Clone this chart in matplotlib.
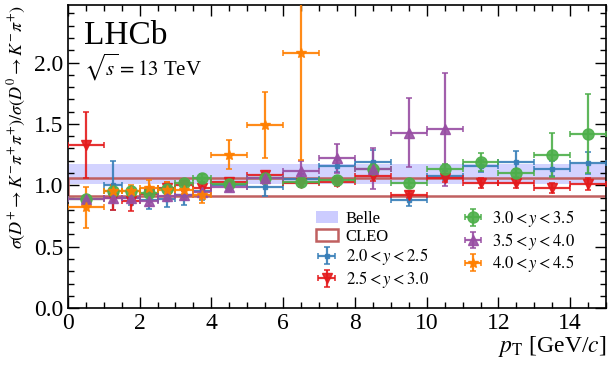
import matplotlib
matplotlib.use("Agg")
import matplotlib.pyplot as plt
import matplotlib.patches as mpatches
import numpy as np

plt.rcParams['font.family'] = ['Liberation Serif', 'DejaVu Serif']
plt.rcParams['mathtext.fontset'] = 'stix'

# bin edges
edges = [0, 1, 1.5, 2, 2.5, 3, 3.5, 4, 5, 6, 7, 8, 9, 10, 11, 12, 13, 14, 15]

# values per rapidity bin (None = no measurement)
blue_val = [None, 1.00, 0.90, 0.88, 0.89, 0.92, 0.95, 1.00, 0.99, 1.05, 1.155, 1.19, 0.88, 1.08, 1.155, 1.19, 1.135, 1.18]
blue_err = [None, 0.20, 0.06, 0.07, 0.07, 0.08, 0.07, 0.05, 0.08, 0.04, 0.05, 0.10, 0.05, 0.04, 0.05, 0.09, 0.06, 0.09]
red_val = [1.33, 0.90, 0.87, 0.93, 0.98, 1.005, 0.98, 1.03, 1.087, 1.02, 1.027, 1.079, 0.924, 1.06, 1.02, 1.02, 0.98, 1.01]
red_err = [0.27, 0.10, 0.08, 0.06, 0.05, 0.05, 0.05, 0.03, 0.03, 0.03, 0.03, 0.04, 0.03, 0.03, 0.04, 0.04, 0.04, 0.05]
green_val = [0.89, 0.95, 0.95, 0.94, 0.97, 1.02, 1.06, 1.01, 1.06, 1.03, 1.046, 1.13, 1.02, 1.134, 1.19, 1.10, 1.25, 1.42]
green_err = [0.02, 0.02, 0.02, 0.02, 0.02, 0.02, 0.03, 0.02, 0.02, 0.02, 0.03, 0.04, 0.03, 0.04, 0.07, 0.03, 0.18, 0.32]
purple_val = [0.89, 0.895, 0.895, 0.87, 0.91, 0.92, 0.945, 0.99, 1.06, 1.12, 1.22, 1.136, 1.43, 1.455, None, None, None, None]
purple_err = [0.02, 0.03, 0.03, 0.04, 0.04, 0.04, 0.04, 0.04, 0.05, 0.08, 0.12, 0.17, 0.28, 0.46, None, None, None, None]
orange_val = [0.82, 0.95, 0.95, 0.98, 0.965, 0.96, 0.92, 1.25, 1.49, 2.076, None, None, None, None, None, None, None, None]
orange_err = [0.17, 0.05, 0.05, 0.06, 0.06, 0.06, 0.06, 0.12, 0.27, 0.87, None, None, None, None, None, None, None, None]

labels = [r'$2.0 < y < 2.5$', r'$2.5 < y < 3.0$', r'$3.0 < y < 3.5$',
          r'$3.5 < y < 4.0$', r'$4.0 < y < 4.5$']
colors = ['#377eb8', '#e41a1c', '#4daf4a', '#984ea3', '#ff7f00']
markers = ['s', 'v', 'o', '^', '*']
msizes = [3, 7, 8, 7, 7]

belle_lo, belle_hi = 1.01, 1.17
cleo_lo, cleo_hi = 0.915, 1.06

fig = plt.figure(figsize=(6.11, 3.73), dpi=100)
ax = fig.add_axes([0.111, 0.174, 0.881, 0.813])

ax.axhspan(belle_lo, belle_hi, color='#ccccff', alpha=0.85, lw=0, zorder=1)
ax.add_patch(mpatches.Rectangle((0, cleo_lo), 15, cleo_hi - cleo_lo,
                                fill=False, edgecolor='#c06060', lw=1.8, zorder=2))

centers = [(edges[i] + edges[i + 1]) / 2 for i in range(len(edges) - 1)]
halfw = [(edges[i + 1] - edges[i]) / 2 for i in range(len(edges) - 1)]

series = [(blue_val, blue_err), (red_val, red_err), (green_val, green_err),
          (purple_val, purple_err), (orange_val, orange_err)]
handles = []
for (vals, errs), c, m, ms, lab in zip(series, colors, markers, msizes, labels):
    idx = [i for i, v in enumerate(vals) if v is not None]
    x = [centers[i] for i in idx]
    y = [vals[i] for i in idx]
    xe = [halfw[i] for i in idx]
    ye = [errs[i] for i in idx]
    h = ax.errorbar(x, y, xerr=xe, yerr=ye, fmt=m, color=c, ms=ms, lw=1.6,
                    capsize=2.5, capthick=1.2, label=lab, zorder=3, alpha=0.9)
    handles.append(h)

belle_patch = mpatches.Patch(facecolor='#ccccff', edgecolor='none', label='Belle')
cleo_patch = mpatches.Patch(facecolor='none', edgecolor='#c06060', lw=1.8, label='CLEO')

leg = ax.legend([belle_patch, cleo_patch, handles[0], handles[1], handles[2], handles[3], handles[4]],
                ['Belle', 'CLEO', labels[0], labels[1], labels[2], labels[3], labels[4]],
                ncol=2, frameon=False, fontsize=12, loc='lower right',
                bbox_to_anchor=(0.97, 0.01), handlelength=1.3, handletextpad=0.5,
                columnspacing=2.0, labelspacing=0.1)

ax.set_xlim(0, 15)
ax.set_ylim(0, 2.47)
ax.set_xticks([0, 2, 4, 6, 8, 10, 12, 14])
ax.set_xticks(np.arange(0, 15.01, 0.5), minor=True)
ax.set_yticks([0, 0.5, 1.0, 1.5, 2.0])
ax.set_yticks(np.arange(0, 2.47, 0.1), minor=True)
ax.set_yticklabels(['0.0', '0.5', '1.0', '1.5', '2.0'])
ax.tick_params(which='both', direction='in', top=True, right=True, labelsize=17)
ax.tick_params(which='major', length=8, width=1)
ax.tick_params(which='minor', length=4, width=1)
for s in ax.spines.values():
    s.set_linewidth(1.2)

ax.set_ylabel(r'$\sigma(D^{+}\to K^{-}\pi^{+}\pi^{+})/\sigma(D^{0}\to K^{-}\pi^{+})$',
              fontsize=13, loc='top')
ax.set_xlabel(r'$p_{\mathrm{T}}$ [GeV/$c$]', fontsize=17, loc='right', labelpad=0)

ax.text(0.03, 0.95, 'LHCb', transform=ax.transAxes, fontsize=24, va='top', ha='left')
ax.text(0.03, 0.845, r'$\sqrt{s} = 13$ TeV', transform=ax.transAxes, fontsize=15, va='top', ha='left')

fig.savefig('out.png', dpi=100)
